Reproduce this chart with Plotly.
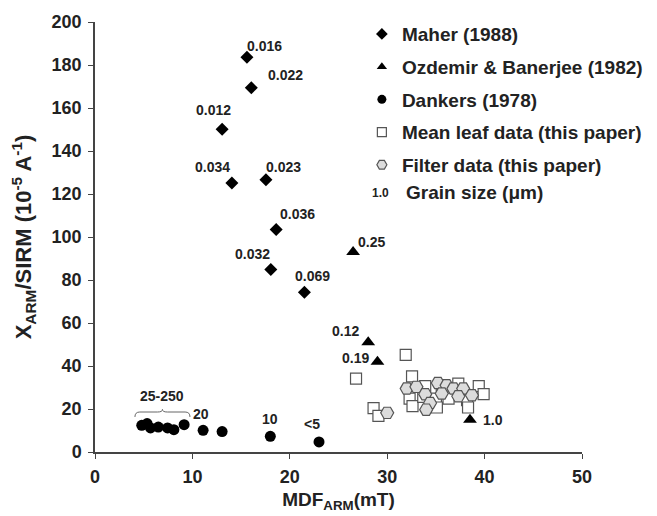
import plotly.graph_objects as go

# ---------------- data ----------------
maher_x = [15.6, 16.05, 13.05, 14.05, 17.55, 18.6, 18.05, 21.5]
maher_y = [183.6, 169.4, 150.1, 125.1, 126.6, 103.5, 84.9, 74.3]
maher_lbl = ["0.016", "0.022", "0.012", "0.034", "0.023", "0.036", "0.032", "0.069"]

ozd_x = [26.5, 28.05, 29.0, 38.5]
ozd_y = [93.0, 51.0, 42.0, 15.0]
ozd_lbl = ["0.25", "0.12", "0.19", "1.0"]

dank_x = [4.8, 5.35, 5.7, 6.5, 7.45, 8.1, 9.15, 11.1, 13.05, 18.0, 23.0]
dank_y = [12.4, 13.2, 11.2, 11.6, 11.2, 10.4, 12.7, 10.1, 9.5, 7.3, 4.7]
dank_lbl = ["", "", "", "", "", "", "", "20", "", "10", "<5"]
dank_cluster_lbl = "25-250"

leaf_x = [31.9, 26.8, 32.55, 28.6, 29.1, 32.3, 32.6, 33.9, 35.0, 35.1, 36.4, 37.3,
          38.2, 38.3, 39.4, 39.9, 36.3, 35.6, 33.7]
leaf_y = [45.2, 34.1, 35.2, 20.4, 16.8, 24.8, 21.3, 30.6, 24.8, 20.7, 28.7, 31.8,
          24.1, 20.7, 30.6, 26.9, 24.8, 31.0, 25.6]

filt_x = [30.0, 32.0, 33.0, 33.9, 34.4, 34.0, 35.2, 36.1, 35.6, 36.8, 37.8, 37.3, 38.7]
filt_y = [18.2, 29.5, 30.3, 26.9, 22.8, 19.7, 32.1, 31.0, 27.2, 29.5, 29.5, 25.9, 26.4]

grain_key = "1.0"
grain_name = "Grain size (μm)"

# label pixel offsets (style)
maher_off = [(18, 11), (34, 13), (-9, 19), (-19, 16), (18, 13), (21, 15), (-18, 15), (8, 16)]
ozd_off = [(18, 10), (-23, 11), (-22, 4), (23, 0)]
dank_off = [(0, 0)] * 7 + [(-2, 16), (0, 0), (0, 17), (-7, 18)]

FONT = "Liberation Sans, Arial, sans-serif"
INK = "#222222"
fig = go.Figure()

styles = [
    ("Maher (1988)", dict(symbol="diamond", color="black"), 10, 9),
    ("Ozdemir & Banerjee (1982)", dict(symbol="triangle-up", color="black"), 12, 9),
    ("Dankers (1978)", dict(symbol="circle", color="black"), 11, 9),
    ("Mean leaf data (this paper)", dict(symbol="square", color="white",
                                         line=dict(color="#555555", width=1.2)), 11, 9),
    ("Filter data (this paper)", dict(symbol="hexagon2", color="#dcdcdc",
                                      line=dict(color="#555555", width=1.2)), 13, 10),
]
series = [(maher_x, maher_y), (ozd_x, ozd_y), (dank_x, dank_y), (leaf_x, leaf_y), (filt_x, filt_y)]

for (name, mk, size, lsize), (xs, ys) in zip(styles, series):
    fig.add_trace(go.Scatter(x=xs, y=ys, mode="markers", name=name, showlegend=False,
                             marker=dict(size=size, **mk)))
for i, (name, mk, size, lsize) in enumerate(styles):
    fig.add_trace(go.Scatter(x=[None], y=[None], mode="markers", name=name,
                             legendgroup="g%d" % i, showlegend=True,
                             marker=dict(size=lsize, **mk)))

lblfont = dict(family=FONT, size=14, color=INK, weight="bold")
for xs, ys, ls, offs in [(maher_x, maher_y, maher_lbl, maher_off),
                         (ozd_x, ozd_y, ozd_lbl, ozd_off),
                         (dank_x, dank_y, dank_lbl, dank_off)]:
    for x, y, t, (dx, dy) in zip(xs, ys, ls, offs):
        if t:
            fig.add_annotation(x=x, y=y, text=t, showarrow=False,
                               xshift=dx, yshift=dy, font=lblfont)

# brace over the Dankers cluster
cx = dank_x[:7]
x0, x1 = min(cx) - 0.7, max(cx) + 0.6
xm = (x0 + x1) / 2
yb, yt, yp = 16.3, 18.6, 19.8
path = (f"M {x0},{yb} Q {x0},{yt} {x0+0.5},{yt} L {xm-0.5},{yt} Q {xm},{yt} {xm},{yp} "
        f"Q {xm},{yt} {xm+0.5},{yt} L {x1-0.5},{yt} Q {x1},{yt} {x1},{yb}")
fig.add_shape(type="path", path=path, xref="x", yref="y",
              line=dict(color="#666666", width=1))
fig.add_annotation(x=xm, y=yp, text=dank_cluster_lbl, showarrow=False,
                   yshift=13, font=lblfont)

# last legend row (grain size key)
fig.add_annotation(xref="paper", yref="paper", x=0.587, y=0.603, text=grain_key,
                   showarrow=False, xanchor="center", yanchor="middle",
                   font=dict(family=FONT, size=12, color=INK, weight="bold"))
fig.add_annotation(xref="paper", yref="paper", x=0.634, y=0.603, text=grain_name,
                   showarrow=False, xanchor="left", yanchor="middle",
                   font=dict(family=FONT, size=19, color=INK, weight="bold"))

axis_common = dict(showline=True, linecolor="#444444", linewidth=1.5, ticks="outside",
                   ticklen=5, tickcolor="#444444", tickwidth=1.2, showgrid=False,
                   zeroline=False, automargin=False, ticklabelstandoff=3,
                   tickfont=dict(family=FONT, size=18, color=INK, weight="bold"))

fig.update_layout(
    width=649, height=508,
    margin=dict(l=87, r=75, t=14, b=64, pad=0, autoexpand=False),
    plot_bgcolor="white", paper_bgcolor="white",
    font=dict(family=FONT, color=INK),
    xaxis=dict(range=[0, 50], dtick=10,
               title=dict(text="MDF<sub>ARM</sub>(mT)", standoff=6,
                          font=dict(family=FONT, size=19, color=INK, weight="bold")),
               **axis_common),
    yaxis=dict(range=[0, 200], dtick=20,
               title=dict(text="X<sub>ARM</sub>/SIRM (10<sup>-5</sup> A<sup>-1</sup>)",
                          standoff=28,
                          font=dict(family=FONT, size=22, color=INK, weight="bold")),
               **axis_common),
    legend=dict(x=0.548, y=1.016, xanchor="left", yanchor="top", traceorder="grouped",
                tracegroupgap=5, bgcolor="rgba(0,0,0,0)",
                font=dict(family=FONT, size=19, color=INK, weight="bold"), itemwidth=30),
    showlegend=True,
)

fig.write_html("out.html")
